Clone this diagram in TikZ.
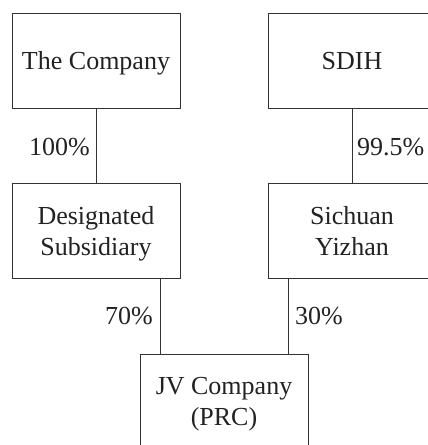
\documentclass[tikz,border=0pt]{standalone}
\usepackage{fontspec}
\setmainfont{Liberation Serif}
\usetikzlibrary{calc}
\definecolor{ink}{HTML}{222222}
\definecolor{edge}{HTML}{333333}
\begin{document}
\begin{tikzpicture}[x=1pt,y=-1pt,
  entity/.style={draw=edge,line width=0.8pt,rectangle,minimum width=168pt,minimum height=95pt,
    inner sep=0pt,align=center,text=ink,text depth=0pt,font=\fontsize{26}{31}\selectfont},
  share/.style={inner sep=0pt,text=ink,font=\fontsize{26}{31}\selectfont},
  link/.style={draw=edge,line width=0.8pt}]
\useasboundingbox (0,0) rectangle (428,445);
\begin{scope}
\clip (0,0) rectangle (428,445);
\node[entity] (company) at (96,60.5) {The Company};
\node[entity] (desig) at (96,231.25) {Designated\\Subsidiary};
\node[entity] (sdih) at (352,60.5) {SDIH};
\node[entity] (sichuan) at (352,231.25) {Sichuan\\Yizhan};
\node[entity] (jv) at (224,401.5) {JV Company\\(PRC)};
\draw[link] (company.south) -- (desig.north);
\draw[link] (sdih.south) -- (sichuan.north);
\draw[link] ($(desig.south)+(64,0)$) -- ($(jv.north)+(-64,0)$);
\draw[link] ($(sichuan.south)+(-64,0)$) -- ($(jv.north)+(64,0)$);
\node[share,anchor=east] (p100) at (90,147) {100\%};
\node[share,anchor=west] (p995) at (357,147) {99.5\%};
\node[share,anchor=east] (p70) at (153,316) {70\%};
\node[share,anchor=west] (p30) at (295,316) {30\%};
\end{scope}
\end{tikzpicture}
\end{document}
